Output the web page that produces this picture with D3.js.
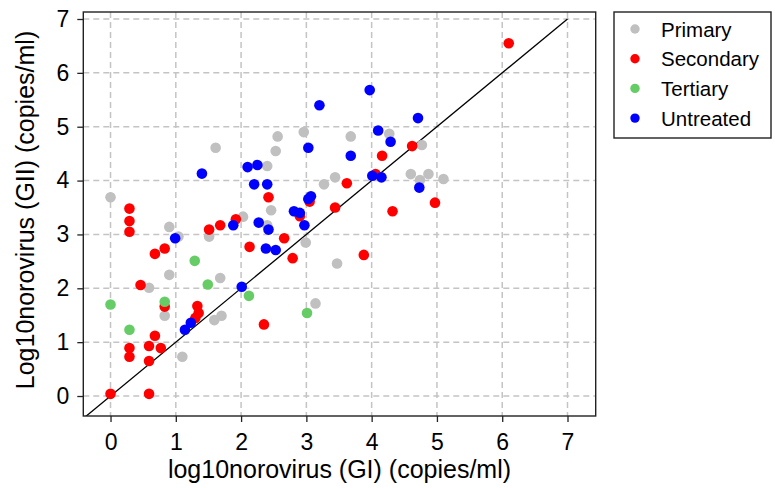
<!DOCTYPE html>
<html>
<head>
<meta charset="utf-8">
<script src="https://cdn.jsdelivr.net/npm/d3@7"></script>
<style>
  body { margin: 0; background: #fff; }
  svg { display: block; font-family: "Liberation Sans", Arial, sans-serif; }
</style>
</head>
<body>
<svg id="chart"></svg>
<script>
// data: [GI, GII] in log10 copies/ml
const primary = [
  [0, 3.69], [0.9, 3.14], [1.04, 2.96], [1.51, 2.96], [2.03, 3.33], [2.4, 3.17],
  [2.46, 3.45], [2.99, 2.85], [0.9, 2.25], [0.59, 2.01], [1.68, 2.19], [0.83, 1.49],
  [1.59, 1.41], [1.7, 1.49], [3.14, 1.72], [1.1, 0.73], [3.47, 2.46], [1.61, 4.61],
  [2.4, 4.27], [2.53, 4.55], [2.56, 4.82], [2.96, 4.9], [3.27, 3.93], [3.44, 4.06],
  [3.68, 4.82], [4.27, 4.87], [4.77, 4.66], [4.6, 4.12], [4.74, 4.01], [4.87, 4.12],
  [5.1, 4.03]
];
const secondary = [
  [0.29, 3.48], [0.29, 3.25], [0.29, 3.05], [1.51, 3.09], [1.68, 3.17], [1.92, 3.28],
  [2.9, 3.34], [3.05, 3.61], [0.68, 2.64], [0.83, 2.74], [2.13, 2.77], [2.66, 2.93],
  [2.79, 2.56], [0.46, 2.06], [0.83, 1.66], [1.33, 1.67], [1.35, 1.54], [1.3, 1.45],
  [2.35, 1.33], [0.68, 1.12], [0.59, 0.93], [0.77, 0.89], [0.29, 0.89], [0.29, 0.73],
  [0.59, 0.65], [0, 0.04], [0.59, 0.04], [2.42, 3.69], [3.44, 3.5], [3.62, 3.95],
  [4.06, 4.12], [4.16, 4.46], [4.62, 4.64], [4.32, 3.43], [4.97, 3.59], [3.88, 2.62],
  [6.1, 6.55]
];
const tertiary = [
  [1.29, 2.51], [1.49, 2.07], [2.12, 1.86], [0, 1.7], [0.83, 1.75], [3.01, 1.54], [0.29, 1.23]
];
const untreated = [
  [0.99, 2.93], [1.88, 3.17], [2.27, 3.22], [2.42, 3.09], [2.81, 3.43], [2.9, 3.4],
  [2.97, 3.17], [3.03, 3.66], [3.07, 3.71], [2.38, 2.74], [2.53, 2.71], [2.01, 2.03],
  [1.23, 1.36], [1.14, 1.23], [1.4, 4.13], [2.1, 4.25], [2.25, 4.29], [2.2, 3.93],
  [2.4, 3.93], [3.03, 4.61], [3.2, 5.4], [3.68, 4.46], [3.97, 5.68], [4.1, 4.93],
  [4.29, 4.72], [4.71, 5.16], [4.01, 4.09], [4.15, 4.06], [4.73, 3.87]
];
const groupNames = ["Primary", "Secondary", "Tertiary", "Untreated"];
const groupColors = ["#c0c0c0", "#ff0000", "#66cc66", "#0000ff"];
const ticks = [0, 1, 2, 3, 4, 5, 6, 7];

const width = 775, height = 488;
const plotLeft = 83.3, plotRight = 595.7, plotTop = 12, plotBottom = 416;

const svg = d3.select("#chart").attr("width", width).attr("height", height);

const x = d3.scaleLinear().domain([-0.417, 7.432]).range([plotLeft, plotRight]);
const y = d3.scaleLinear().domain([-0.371, 7.13]).range([plotBottom, plotTop]);

svg.append("clipPath").attr("id", "plotclip")
  .append("rect")
  .attr("x", plotLeft).attr("y", plotTop)
  .attr("width", plotRight - plotLeft).attr("height", plotBottom - plotTop);

// dashed grid
const grid = svg.append("g")
  .attr("stroke", "#c4c4c4").attr("stroke-width", 1.5).attr("stroke-dasharray", "6,4");
grid.selectAll("line.v").data(ticks).join("line")
  .attr("class", "v")
  .attr("x1", d => x(d)).attr("x2", d => x(d))
  .attr("y1", plotTop).attr("y2", plotBottom);
grid.selectAll("line.h").data(ticks).join("line")
  .attr("class", "h")
  .attr("y1", d => y(d)).attr("y2", d => y(d))
  .attr("x1", plotLeft).attr("x2", plotRight);

// 1:1 line
svg.append("line")
  .attr("clip-path", "url(#plotclip)")
  .attr("x1", x(-0.417)).attr("y1", y(-0.417))
  .attr("x2", x(7)).attr("y2", y(7))
  .attr("stroke", "#000").attr("stroke-width", 1.3);

// points
const groups = [primary, secondary, tertiary, untreated];
groups.forEach((pts, i) => {
  svg.append("g").selectAll("circle").data(pts).join("circle")
    .attr("cx", d => x(d[0])).attr("cy", d => y(d[1]))
    .attr("r", 5.3)
    .attr("fill", groupColors[i]);
});

// frame
svg.append("rect")
  .attr("x", plotLeft).attr("y", plotTop)
  .attr("width", plotRight - plotLeft).attr("height", plotBottom - plotTop)
  .attr("fill", "none").attr("stroke", "#222").attr("stroke-width", 1.4);

// axes
const xAxis = svg.append("g")
  .attr("transform", `translate(0,${plotBottom})`)
  .call(d3.axisBottom(x).tickValues(ticks).tickSize(6).tickPadding(12).tickSizeOuter(0));
const yAxis = svg.append("g")
  .attr("transform", `translate(${plotLeft},0)`)
  .call(d3.axisLeft(y).tickValues(ticks).tickSize(6).tickPadding(8).tickSizeOuter(0));
[xAxis, yAxis].forEach(a => {
  a.select(".domain").remove();
  a.selectAll(".tick line").attr("stroke", "#222").attr("stroke-width", 1.3);
  a.selectAll(".tick text")
    .attr("fill", "#000")
    .style("font-size", "23px")
    .style("font-family", "'Liberation Sans', Arial, sans-serif");
});

svg.append("text")
  .attr("x", (plotLeft + plotRight) / 2).attr("y", 478)
  .attr("text-anchor", "middle")
  .style("font-size", "25px")
  .text("log10norovirus (GI) (copies/ml)");

svg.append("text")
  .attr("transform", "translate(34,210) rotate(-90)")
  .attr("text-anchor", "middle")
  .style("font-size", "25px")
  .text("Log10norovirus (GII) (copies/ml)");

// legend
const legend = svg.append("g");
legend.append("rect")
  .attr("x", 614).attr("y", 12).attr("width", 157).attr("height", 126)
  .attr("fill", "#fff").attr("stroke", "#222").attr("stroke-width", 1.4);
groupNames.forEach((name, i) => {
  const ly = 29 + i * 29.7;
  legend.append("circle").attr("cx", 635).attr("cy", ly).attr("r", 4.7).attr("fill", groupColors[i]);
  legend.append("text").attr("x", 661).attr("y", ly)
    .attr("dominant-baseline", "central")
    .style("font-size", "20.5px")
    .text(name);
});
</script>
</body>
</html>
